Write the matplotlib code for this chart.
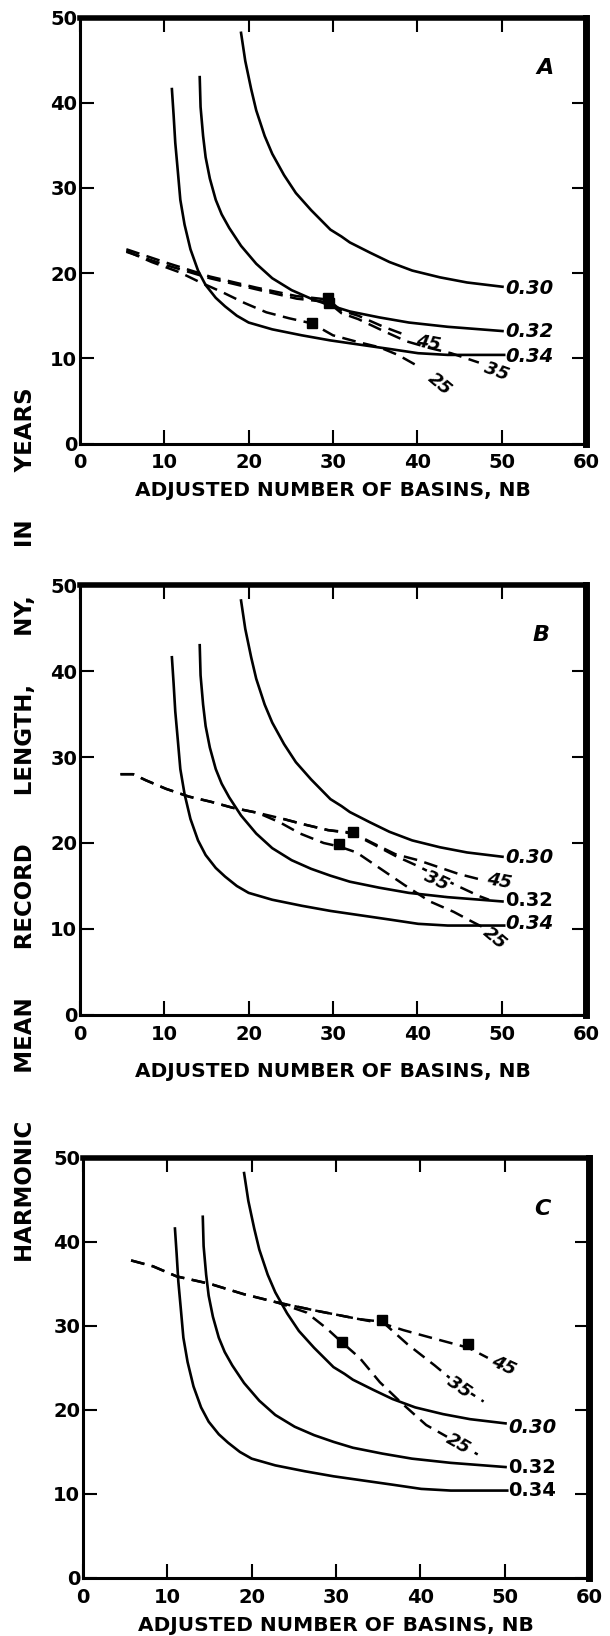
import matplotlib.pyplot as plt

plt.rcParams['font.family'] = ['DejaVu Sans']
plt.rcParams['font.weight'] = 'bold'

# solid curves (same in all three panels)
nb_030 = [19.1, 19.6, 20.3, 20.9, 21.9, 22.8, 24.2, 25.6, 27.4, 28.6, 29.7, 31.0, 32.0, 33.2, 34.4, 36.7, 39.4, 42.7, 45.9, 50.1]
ny_030 = [48.2, 44.9, 41.6, 39.1, 36.1, 34.0, 31.5, 29.4, 27.4, 26.2, 25.1, 24.3, 23.6, 23.0, 22.4, 21.3, 20.3, 19.5, 18.9, 18.4]
nb_032 = [14.2, 14.3, 14.6, 14.9, 15.4, 16.1, 16.8, 17.7, 19.1, 20.9, 22.8, 25.1, 27.4, 29.7, 32.0, 35.5, 39.0, 43.6, 50.1]
ny_032 = [43.0, 39.5, 36.1, 33.6, 31.1, 28.6, 26.9, 25.3, 23.2, 21.1, 19.4, 18.0, 17.0, 16.2, 15.5, 14.8, 14.2, 13.7, 13.2]
nb_034 = [10.9, 11.1, 11.3, 11.6, 11.9, 12.4, 13.1, 14.0, 14.9, 16.1, 17.2, 18.6, 20.0, 22.8, 26.3, 29.7, 33.2, 36.7, 40.1, 43.6, 50.3]
ny_034 = [41.6, 38.6, 35.3, 32.0, 28.6, 25.7, 22.8, 20.3, 18.6, 17.1, 16.1, 15.0, 14.2, 13.4, 12.7, 12.1, 11.6, 11.1, 10.6, 10.4, 10.4]
curve_names = ['0.30', '0.32', '0.34']

# panel A dashed lines
a25_x = [5.5, 8.5, 11.8, 14.3, 16.8, 19.5, 22.1, 24.8, 27.5, 30.0, 33.0, 35.5, 37.7, 40.4]
a25_y = [22.6, 21.3, 20.1, 18.9, 17.8, 16.5, 15.4, 14.7, 14.1, 12.7, 11.9, 11.3, 10.4, 8.9]
a35_x = [5.5, 10.0, 15.4, 20.9, 25.7, 29.4, 31.0, 33.0, 36.0, 38.7, 41.5, 44.0, 47.3]
a35_y = [22.5, 21.0, 19.4, 18.1, 17.0, 16.6, 15.3, 14.6, 13.2, 12.0, 11.2, 10.6, 9.5]
a45_x = [5.5, 10.0, 15.4, 20.9, 25.7, 29.4, 31.0, 33.0, 36.0, 38.7]
a45_y = [22.8, 21.3, 19.6, 18.3, 17.3, 16.9, 15.6, 15.0, 13.7, 12.7]
a_mark_x = [27.5, 29.5, 29.4]
a_mark_y = [14.1, 16.5, 17.1]

# panel B dashed lines
b25_x = [4.8, 6.3, 7.8, 10.2, 12.9, 15.5, 18.1, 21.1, 23.7, 26.1, 28.9, 30.7, 32.8, 35.5, 38.5, 41.5, 44.3, 46.6, 47.8]
b25_y = [28.0, 28.0, 27.3, 26.3, 25.4, 24.8, 24.1, 23.5, 22.4, 21.1, 20.0, 19.6, 18.9, 17.1, 15.1, 13.2, 12.0, 10.8, 10.2]
b35_x = [4.8, 6.3, 7.8, 10.2, 12.9, 15.5, 18.1, 21.1, 24.1, 26.4, 29.4, 32.3, 34.7, 37.4, 40.1, 42.3, 45.0, 47.4, 48.5]
b35_y = [28.0, 28.0, 27.3, 26.3, 25.4, 24.8, 24.1, 23.5, 22.8, 22.2, 21.5, 21.1, 19.9, 18.5, 17.3, 16.2, 14.9, 13.8, 13.4]
b45_x = [24.1, 26.4, 29.4, 32.3, 34.7, 37.4, 40.1, 42.5, 44.9, 47.3]
b45_y = [22.8, 22.2, 21.5, 21.2, 20.0, 18.7, 18.0, 17.2, 16.4, 15.8]
b_mark_x = [30.7, 32.4]
b_mark_y = [19.9, 21.3]

# panel C dashed lines
c25_x = [5.7, 8.3, 11.1, 15.1, 19.0, 23.0, 26.5, 28.9, 30.75, 32.8, 35.2, 37.8, 40.7, 43.0, 46.8]
c25_y = [37.8, 37.1, 35.9, 35.0, 33.8, 32.8, 31.6, 29.7, 28.0, 26.2, 23.3, 20.8, 18.2, 16.9, 14.7]
c35_x = [23.0, 27.7, 32.8, 35.5, 38.5, 41.7, 43.5, 45.5, 47.5]
c35_y = [32.8, 31.8, 30.8, 30.5, 27.8, 25.3, 23.8, 22.3, 21.0]
c45_x = [5.7, 8.3, 11.1, 15.1, 19.0, 23.0, 27.7, 32.8, 35.5, 38.0, 40.9, 45.7, 48.0]
c45_y = [37.8, 37.1, 35.9, 35.0, 33.8, 32.8, 31.8, 30.8, 30.3, 29.5, 28.7, 27.4, 26.2]
c_mark_x = [30.75, 35.5, 45.7]
c_mark_y = [28.1, 30.7, 27.8]

ticks = [0, 10, 20, 30, 40, 50, 60]
yticks = [0, 10, 20, 30, 40, 50]
xlabel = 'ADJUSTED NUMBER OF BASINS, NB'
gap = ' ' * 6
ylabel = gap.join(['HARMONIC', 'MEAN', 'RECORD', 'LENGTH,', 'NY,', 'IN', 'YEARS'])

fig = plt.figure(figsize=(6.1, 16.36), dpi=100)
axA = fig.add_axes([0.1311, 0.7289, 0.8295, 0.2604])
axB = fig.add_axes([0.1311, 0.3796, 0.8295, 0.2628])
axC = fig.add_axes([0.1361, 0.0355, 0.8295, 0.2567])

dash = (0, (5.5, 3))


def frame(ax, labelpad):
    ax.set_xlim(0, 60)
    ax.set_ylim(0, 50)
    ax.set_xticks(ticks)
    ax.set_yticks(yticks)
    ax.tick_params(direction='in', length=10, width=1.5, top=True, right=True,
                   labelsize=14)
    ax.tick_params(axis='x', pad=7)
    ax.tick_params(axis='y', pad=2)
    ax.spines['left'].set_linewidth(2.2)
    ax.spines['bottom'].set_linewidth(2.2)
    ax.spines['top'].set_linewidth(4)
    ax.spines['right'].set_linewidth(5)
    ax.set_xlabel(xlabel, fontsize=14.5, fontweight='bold', labelpad=labelpad)


def curves(ax, label_y, styles):
    for xs, ys in [(nb_030, ny_030), (nb_032, ny_032), (nb_034, ny_034)]:
        ax.plot(xs, ys, color='k', lw=1.9)
    for name, y, st in zip(curve_names, label_y, styles):
        ax.text(50.4, y, name, fontsize=14, fontstyle=st, fontweight='bold',
                ha='left', va='center')


def dashed(ax, lines, mx, my):
    for xs, ys in lines:
        ax.plot(xs, ys, color='k', lw=1.8, ls=dash)
    ax.plot(mx, my, 's', color='k', ms=6.5)


def tag(ax, x, y, s, rot, mask=False):
    box = dict(facecolor='white', edgecolor='none', pad=0.5) if mask else None
    ax.text(x, y, s, fontsize=13, fontstyle='italic', fontweight='bold',
            rotation=rot, ha='center', va='center', bbox=box, zorder=5)


# panel A
frame(axA, 6)
curves(axA, [18.2, 13.2, 10.2], ['italic', 'italic', 'italic'])
dashed(axA, [(a25_x, a25_y), (a35_x, a35_y), (a45_x, a45_y)], a_mark_x, a_mark_y)
tag(axA, 41.3, 11.75, '45', -10)
tag(axA, 49.4, 8.4, '35', -20)
tag(axA, 42.6, 7.0, '25', -40)
axA.text(55.2, 44.1, 'A', fontsize=16, fontstyle='italic', fontweight='bold',
         ha='center', va='center')

# panel B
frame(axB, 13)
curves(axB, [18.3, 13.3, 10.6], ['italic', 'normal', 'italic'])
dashed(axB, [(b25_x, b25_y), (b35_x, b35_y), (b45_x, b45_y)], b_mark_x, b_mark_y)
tag(axB, 49.7, 15.5, '45', -10)
tag(axB, 42.3, 15.6, '35', -25, mask=True)
tag(axB, 49.2, 8.9, '25', -40)
axB.text(54.7, 44.2, 'B', fontsize=16, fontstyle='italic', fontweight='bold',
         ha='center', va='center')

# panel C
frame(axC, 7)
curves(axC, [17.9, 13.1, 10.4], ['italic', 'normal', 'normal'])
dashed(axC, [(c25_x, c25_y), (c35_x, c35_y), (c45_x, c45_y)], c_mark_x, c_mark_y)
tag(axC, 49.9, 25.3, '45', -25)
tag(axC, 44.6, 22.7, '35', -35, mask=True)
tag(axC, 44.5, 16.0, '25', -30, mask=True)
axC.text(54.5, 43.9, 'C', fontsize=16, fontstyle='italic', fontweight='bold',
         ha='center', va='center')

fig.text(0.041, 0.496, ylabel, rotation=90, fontsize=16.5, fontweight='bold',
         ha='center', va='center')

fig.savefig('out.png', dpi=100)
